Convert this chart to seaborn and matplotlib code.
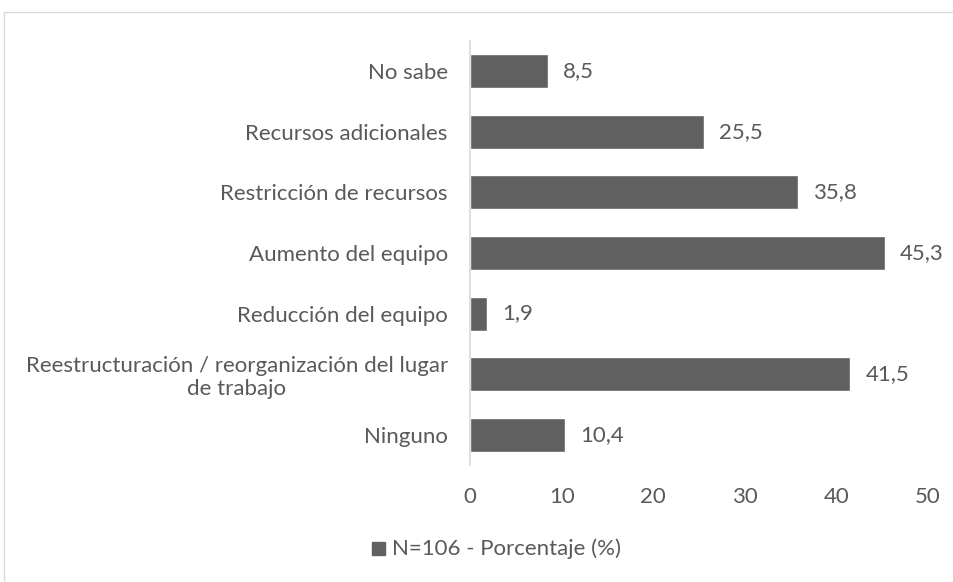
import pandas as pd
import seaborn as sns
import matplotlib.pyplot as plt
from matplotlib.patches import Rectangle

categories = [
    "No sabe",
    "Recursos adicionales",
    "Restricción de recursos",
    "Aumento del equipo",
    "Reducción del equipo",
    "Reestructuración / reorganización del lugar\nde trabajo",
    "Ninguno",
]
values = [8.5, 25.5, 35.8, 45.3, 1.9, 41.5, 10.4]
series_name = "N=106 - Porcentaje (%)"
x_ticks = [0, 10, 20, 30, 40, 50]

bar_color = "#606060"
text_color = "#595959"
grid_color = "#d9d9d9"
fs = 16

sns.set_theme(style="white")
plt.rcParams["font.family"] = ["Lato", "DejaVu Sans"]

df = pd.DataFrame({"cat": categories, "val": values})

W, H = 954, 582
fig = plt.figure(figsize=(W / 100, H / 100), dpi=100)
ax = fig.add_axes([470 / W, 1 - 465 / H, (928 - 470) / W, (465 - 41) / H])

sns.barplot(data=df, y="cat", x="val", orient="h", color=bar_color,
            saturation=1, width=0.56, ax=ax)

# value labels to the right of each bar
for i, v in enumerate(values):
    ax.annotate(f"{v:.1f}".replace(".", ","), xy=(v, i), xytext=(11, 0),
                textcoords="offset points", va="center", ha="left",
                fontsize=fs, color=text_color)

ax.set_xlim(0, 50)
ax.set_xticks(x_ticks)
ax.set_xlabel("")
ax.set_ylabel("")
ax.tick_params(axis="x", colors=text_color, labelsize=fs, length=0, pad=16)
ax.tick_params(axis="y", colors=text_color, labelsize=fs, length=0, pad=16)
for lbl in ax.get_yticklabels():
    lbl.set_multialignment("center")

for side in ["top", "right", "bottom"]:
    ax.spines[side].set_visible(False)
ax.spines["left"].set_color(grid_color)
ax.spines["left"].set_linewidth(1.2)

# chart area border (runs off the right and bottom edges)
fig.patches.append(Rectangle((4 / W, -0.1), 1.2, 1 - 12 / H + 0.1,
                             transform=fig.transFigure, fill=False,
                             edgecolor=grid_color, linewidth=1))

# legend
fig.patches.append(Rectangle((372 / W, 1 - 555 / H), 13 / W, 13 / H,
                             transform=fig.transFigure, color=bar_color))
fig.text(392 / W, 1 - 549 / H, series_name, va="center", ha="left",
         fontsize=fs, color=text_color)

plt.savefig("out.png", dpi=100)
